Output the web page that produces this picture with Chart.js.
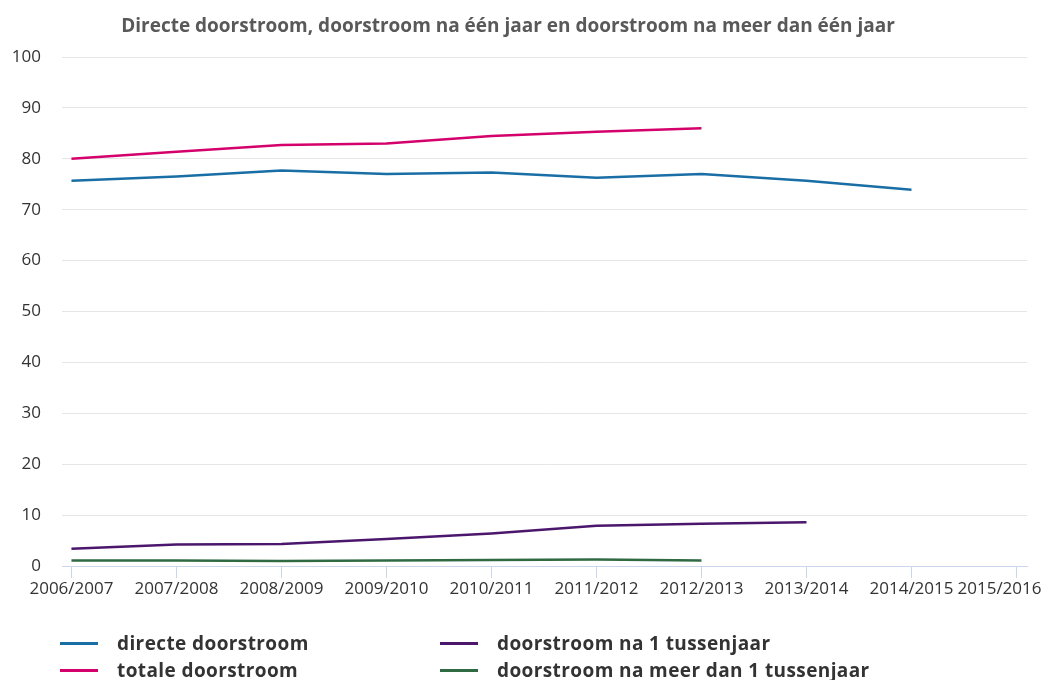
<!DOCTYPE html>
<html>
<head>
<meta charset="utf-8">
<script src="https://cdn.jsdelivr.net/npm/chart.js@4"></script>
<style>
  body { margin: 0; background: #fff; font-family: "Open Sans", sans-serif; }
  #wrap { position: relative; width: 1051px; height: 680px; }
  #title { position: absolute; top: 12px; left: 0; width: 1016px; text-align: center;
           font-weight: bold; font-size: 19px; line-height: 26px; color: #595959; }
  #legend { position: absolute; left: 60px; top: 630px; display: grid;
            grid-template-columns: 380px 440px; row-gap: 1px; }
  .item { display: flex; align-items: center; font-weight: bold; font-size: 19px;
          letter-spacing: 0.4px; line-height: 26px; color: #333; white-space: nowrap; }
  .mark { display: inline-block; width: 38px; height: 3px; margin-right: 19px; }
</style>
</head>
<body>
<div id="wrap">
  <canvas id="myChart" width="1051" height="680"></canvas>
  <div id="title">Directe doorstroom, doorstroom na één jaar en doorstroom na meer dan één jaar</div>
  <div id="legend"></div>
</div>
<script>
const years = ['2006/2007', '2007/2008', '2008/2009', '2009/2010', '2010/2011',
               '2011/2012', '2012/2013', '2013/2014', '2014/2015', '2015/2016'];
const directe = [75.7, 76.5, 77.7, 77.0, 77.3, 76.3, 77.0, 75.7, 73.9];
const naEenJaar = [3.4, 4.2, 4.3, 5.3, 6.4, 7.9, 8.3, 8.6];
const totale = [80.0, 81.4, 82.7, 83.0, 84.5, 85.3, 86.0];
const naMeer = [1.1, 1.1, 1.0, 1.1, 1.2, 1.3, 1.1];

const yTicks = [0, 10, 20, 30, 40, 50, 60, 70, 80, 90, 100];

const series = [
    { label: 'directe doorstroom', values: directe, color: '#1a6ea6' },
    { label: 'doorstroom na 1 tussenjaar', values: naEenJaar, color: '#4b176c' },
    { label: 'totale doorstroom', values: totale, color: '#d4016c' },
    { label: 'doorstroom na meer dan 1 tussenjaar', values: naMeer, color: '#2f6a43' }
];

const ctx = document.getElementById('myChart');

new Chart(ctx, {
    type: 'line',
    data: {
        datasets: series.map(s => ({
            label: s.label,
            data: s.values.map((v, i) => ({ x: i, y: v })),
            borderColor: s.color,
            backgroundColor: s.color,
            borderWidth: 2.5,
            pointRadius: 0,
            tension: 0
        }))
    },
    options: {
        responsive: false,
        animation: false,
        layout: { padding: { top: 57, right: 24, bottom: 74, left: 0 } },
        plugins: {
            legend: { display: false },
            title: { display: false },
            tooltip: { enabled: false }
        },
        scales: {
            x: {
                type: 'linear',
                min: -0.09,
                max: 9.1,
                afterBuildTicks: s => { s.ticks = years.map((_, i) => ({ value: i })); },
                afterFit: s => { s.height = 40; s.paddingLeft = 0; s.paddingRight = 0; },
                ticks: {
                    autoSkip: false,
                    maxRotation: 0,
                    padding: 1,
                    color: '#333',
                    font: { family: 'Open Sans', size: 17 },
                    // last label is pushed left like in the original
                    callback: v => v === years.length - 1 ? years[v] + '\u2002\u2002\u2002\u2002' : years[v]
                },
                grid: { drawOnChartArea: false, drawTicks: true, tickLength: 12, color: '#ccd6eb' },
                border: { color: '#ccd6eb', width: 1 }
            },
            y: {
                min: 0,
                max: 100,
                afterBuildTicks: s => { s.ticks = yTicks.map(v => ({ value: v })); },
                afterFit: s => { s.width = 62; },
                ticks: {
                    padding: 21,
                    color: '#333',
                    font: { family: 'Open Sans', size: 17 }
                },
                grid: { color: '#e6e6e6', drawTicks: false },
                border: { display: false }
            }
        }
    }
});

const legend = document.getElementById('legend');
series.forEach(s => {
    const item = document.createElement('div');
    item.className = 'item';
    const mark = document.createElement('span');
    mark.className = 'mark';
    mark.style.background = s.color;
    item.appendChild(mark);
    item.appendChild(document.createTextNode(s.label));
    legend.appendChild(item);
});
</script>
</body>
</html>
